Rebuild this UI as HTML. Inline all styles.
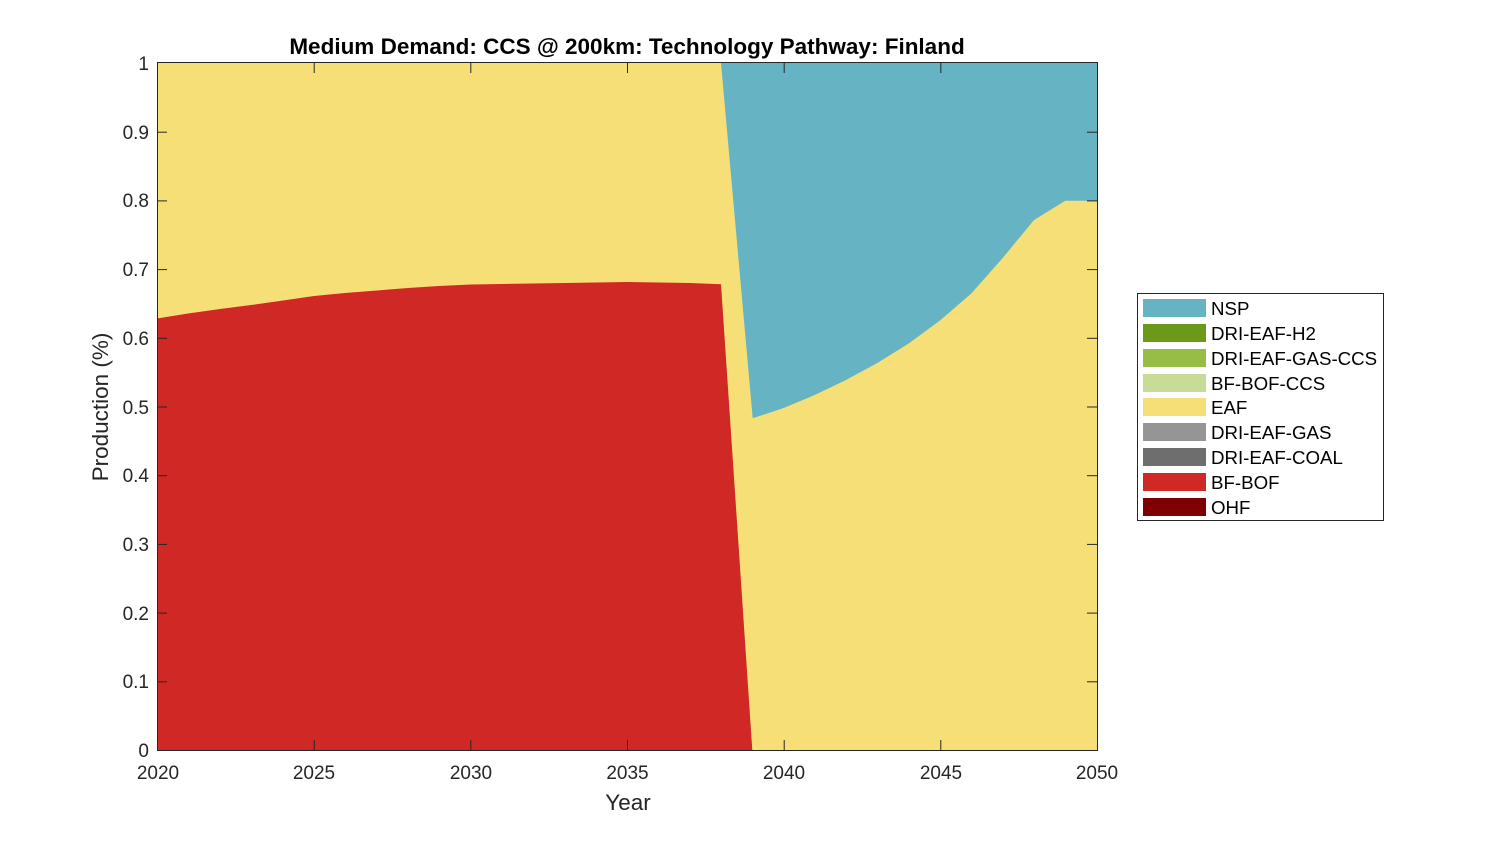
<!DOCTYPE html>
<html><head><style>
html,body{margin:0;padding:0;background:#fff;}
svg{display:block;font-family:"Liberation Sans",Arial,sans-serif;}
</style></head><body>
<svg width="1500" height="844" viewBox="0 0 1500 844">
<rect x="157" y="63" width="940" height="687" fill="#F7DF77"/>
<polygon fill="#D02825" points="157,318.5 188,313.5 220,309 251,305 283,300.5 314,296 345,293 377,290.5 408,288 439,286 471,284.5 502,284 533,283.5 565,283 596,282.5 627,282 659,282.5 690,283 721,284.3 752.3,750 157,750"/>
<polygon fill="#66B3C4" points="721,63 1097,63 1097,200.7 1065.3,200.7 1034,220 1002.7,258 971.3,293.5 940,320.5 908.7,343.5 877.3,363 846,380 814.7,395 783.7,408 752.7,418.3"/>
<g stroke="#262626" stroke-width="1" fill="none">
<rect x="157.5" y="62.5" width="940" height="688"/>
</g>
<g stroke="#262626" stroke-width="1">
<line x1="314.2" y1="750" x2="314.2" y2="740"/><line x1="470.8" y1="750" x2="470.8" y2="740"/><line x1="627.5" y1="750" x2="627.5" y2="740"/><line x1="784.2" y1="750" x2="784.2" y2="740"/><line x1="940.8" y1="750" x2="940.8" y2="740"/>
<line x1="314.2" y1="63" x2="314.2" y2="73"/><line x1="470.8" y1="63" x2="470.8" y2="73"/><line x1="627.5" y1="63" x2="627.5" y2="73"/><line x1="784.2" y1="63" x2="784.2" y2="73"/><line x1="940.8" y1="63" x2="940.8" y2="73"/>
<line x1="157" y1="681.8" x2="167" y2="681.8"/><line x1="157" y1="613.1" x2="167" y2="613.1"/><line x1="157" y1="544.4" x2="167" y2="544.4"/><line x1="157" y1="475.7" x2="167" y2="475.7"/><line x1="157" y1="407" x2="167" y2="407"/><line x1="157" y1="338.3" x2="167" y2="338.3"/><line x1="157" y1="269.6" x2="167" y2="269.6"/><line x1="157" y1="200.9" x2="167" y2="200.9"/><line x1="157" y1="132.2" x2="167" y2="132.2"/>
<line x1="1097" y1="681.8" x2="1087" y2="681.8"/><line x1="1097" y1="613.1" x2="1087" y2="613.1"/><line x1="1097" y1="544.4" x2="1087" y2="544.4"/><line x1="1097" y1="475.7" x2="1087" y2="475.7"/><line x1="1097" y1="407" x2="1087" y2="407"/><line x1="1097" y1="338.3" x2="1087" y2="338.3"/><line x1="1097" y1="269.6" x2="1087" y2="269.6"/><line x1="1097" y1="200.9" x2="1087" y2="200.9"/><line x1="1097" y1="132.2" x2="1087" y2="132.2"/>
</g>
<g fill="#262626" font-size="19" text-anchor="middle">
<text x="158" y="779">2020</text><text x="314" y="779">2025</text><text x="471" y="779">2030</text><text x="627.5" y="779">2035</text><text x="784" y="779">2040</text><text x="941" y="779">2045</text><text x="1097" y="779">2050</text>
</g>
<g fill="#262626" font-size="19" text-anchor="end">
<text x="149" y="757">0</text><text x="149" y="688">0.1</text><text x="149" y="620">0.2</text><text x="149" y="551">0.3</text><text x="149" y="482">0.4</text><text x="149" y="414">0.5</text><text x="149" y="345">0.6</text><text x="149" y="276">0.7</text><text x="149" y="207">0.8</text><text x="149" y="139">0.9</text><text x="149" y="70">1</text>
</g>
<text x="628" y="810" font-size="22.5" fill="#262626" text-anchor="middle">Year</text>
<text transform="translate(108,407) rotate(-90)" font-size="22.5" fill="#262626" text-anchor="middle">Production (%)</text>
<text x="627" y="54" font-size="22.5" font-weight="bold" fill="#000" text-anchor="middle">Medium Demand: CCS @ 200km: Technology Pathway: Finland</text>
<rect x="1137.5" y="293.5" width="246" height="227" fill="#fff" stroke="#262626"/>
<g font-size="18.7" fill="#000">
<rect x="1143" y="299" width="63" height="18" fill="#66B3C4"/><text x="1211" y="315">NSP</text>
<rect x="1143" y="324" width="63" height="18" fill="#6B9A1A"/><text x="1211" y="340">DRI-EAF-H2</text>
<rect x="1143" y="349" width="63" height="18" fill="#97BD47"/><text x="1211" y="365">DRI-EAF-GAS-CCS</text>
<rect x="1143" y="374" width="63" height="18" fill="#C8DC98"/><text x="1211" y="390">BF-BOF-CCS</text>
<rect x="1143" y="398" width="63" height="18" fill="#F7DF77"/><text x="1211" y="414">EAF</text>
<rect x="1143" y="423" width="63" height="18" fill="#959595"/><text x="1211" y="439">DRI-EAF-GAS</text>
<rect x="1143" y="448" width="63" height="18" fill="#6E6E6E"/><text x="1211" y="464">DRI-EAF-COAL</text>
<rect x="1143" y="473" width="63" height="18" fill="#D02825"/><text x="1211" y="489">BF-BOF</text>
<rect x="1143" y="498" width="63" height="18" fill="#7E0000"/><text x="1211" y="514">OHF</text>
</g>
</svg>
</body></html>
